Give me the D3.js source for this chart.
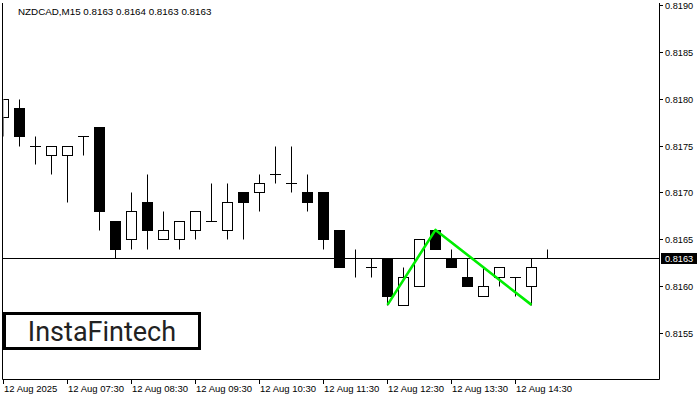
<!DOCTYPE html>
<html><head><meta charset="utf-8">
<script src="https://cdn.jsdelivr.net/npm/d3@7/dist/d3.min.js"></script>
<style>body{margin:0;background:#fff}svg{display:block}</style>
</head><body>
<script>
const symbolTitle = "NZDCAD,M15  0.8163 0.8164 0.8163 0.8163";
const opens  = [0.8178,0.8179,0.8175,0.8174,0.8174,0.8176,0.8177,0.8167,0.8165,0.8169,0.8165,0.8165,0.8166,0.8167,0.8166,0.8170,0.8170,0.8172,0.8171,0.8170,0.8170,0.8166,0.8163,0.8162,0.8163,0.8158,0.8160,0.8166,0.8163,0.8161,0.8159,0.8161,0.8161,0.8160,0.8163];
const highs  = [0.8180,0.8180,0.8176,0.8175,0.8175,0.8176,0.8177,0.8167,0.8170,0.8172,0.8168,0.8167,0.8168,0.8171,0.8171,0.8170,0.8172,0.8175,0.8175,0.8172,0.8170,0.8166,0.8164,0.8163,0.8163,0.8162,0.8165,0.8166,0.8164,0.8163,0.8162,0.8162,0.8161,0.8163,0.8164];
const lows   = [0.8176,0.8175,0.8173,0.8172,0.8169,0.8174,0.8166,0.8163,0.8164,0.8164,0.8165,0.8164,0.8165,0.8167,0.8165,0.8165,0.8168,0.8171,0.8170,0.8168,0.8164,0.8162,0.8161,0.8161,0.8158,0.8158,0.8160,0.8164,0.8162,0.8160,0.8159,0.8160,0.8159,0.8158,0.8163];
const closes = [0.8180,0.8176,0.8175,0.8175,0.8175,0.8176,0.8168,0.8164,0.8168,0.8166,0.8166,0.8167,0.8168,0.8167,0.8169,0.8169,0.8171,0.8172,0.8171,0.8169,0.8165,0.8162,0.8163,0.8162,0.8159,0.8161,0.8165,0.8164,0.8162,0.8160,0.8160,0.8162,0.8161,0.8162,0.8163];
const priceTicks = [0.8155,0.8160,0.8165,0.8170,0.8175,0.8180,0.8185,0.8190];
const timeTickIdx = [0,4,8,12,16,20,24,28,32];
const timeLabels = ["12 Aug 2025","12 Aug 07:30","12 Aug 08:30","12 Aug 09:30","12 Aug 10:30","12 Aug 11:30","12 Aug 12:30","12 Aug 13:30","12 Aug 14:30"];
const patternIdx = [24,27,33];
const patternPrices = [0.8158,0.8166,0.8158];
const currentPrice = 0.8163;
const logoText = "InstaFintech";

const W=700,H=400, L=3, R=659, T=3, B=379;
const svg=d3.select("body").append("svg").attr("width",W).attr("height",H);
const x=d3.scaleLinear().domain([0,34]).range([3.5,547.5]);
const y=d3.scaleLinear().domain([0.8155,0.8190]).range([333,5]);
const yp=v=>Math.round(y(v))+0.5;

const plot=svg.append("g");
plot.append("line").attr("x1",L).attr("x2",R).attr("y1",yp(currentPrice)).attr("y2",yp(currentPrice))
  .attr("stroke","#000").attr("stroke-width",1);

const data=opens.map((o,i)=>({i,o,h:highs[i],l:lows[i],c:closes[i]}));
svg.append("clipPath").attr("id","pc").append("rect").attr("x",L+0.5).attr("y",T).attr("width",R-L).attr("height",B-T);
const cg=plot.append("g").attr("clip-path","url(#pc)");
data.forEach(d=>{
  const cx=x(d.i);
  cg.append("line").attr("x1",cx).attr("x2",cx).attr("y1",yp(d.h)).attr("y2",yp(d.l)).attr("stroke","#000");
  const top=Math.min(yp(d.o),yp(d.c)), bot=Math.max(yp(d.o),yp(d.c));
  if(d.o===d.c){
    cg.append("line").attr("x1",cx-5.5).attr("x2",cx+5.5).attr("y1",top).attr("y2",top).attr("stroke","#000");
  } else {
    cg.append("rect").attr("x",cx-5).attr("y",top).attr("width",10).attr("height",bot-top)
      .attr("fill",d.c>d.o?"#fff":"#000").attr("stroke","#000").attr("stroke-width",1);
  }
});
cg.append("path").datum(patternIdx.map((k,j)=>[x(k),y(patternPrices[j])]))
  .attr("d",d3.line()).attr("fill","none").attr("stroke","#00ee00").attr("stroke-width",2.6).attr("stroke-linejoin","round");

svg.append("path").attr("d",`M${L-0.5},${T}V${B+0.5}H${R+0.5}V${T}`).attr("fill","none").attr("stroke","#000").attr("stroke-width",1);

const ra=svg.append("g").attr("font-family","Liberation Sans, Arial, sans-serif").attr("font-size","9.2px");
priceTicks.forEach(p=>{
  ra.append("line").attr("x1",R+0.5).attr("x2",R+4).attr("y1",yp(p)).attr("y2",yp(p)).attr("stroke","#000");
  ra.append("text").attr("x",665).attr("y",yp(p)+3.5).attr("fill","#000").text(p.toFixed(4));
});
ra.append("rect").attr("x",661).attr("y",yp(currentPrice)-5.5).attr("width",36).attr("height",11).attr("fill","#000");
ra.append("text").attr("x",665).attr("y",yp(currentPrice)+3.5).attr("fill","#fff").text(currentPrice.toFixed(4));

const ba=svg.append("g").attr("font-family","Liberation Sans, Arial, sans-serif").attr("font-size","9.5px");
timeTickIdx.forEach((k,j)=>{
  const tx=Math.round(x(k))-0.5;
  ba.append("line").attr("x1",tx).attr("x2",tx).attr("y1",B).attr("y2",B+5).attr("stroke","#000");
  ba.append("text").attr("x",tx+0.5).attr("y",392).attr("fill","#000").text(timeLabels[j]);
});

svg.append("text").attr("x",18).attr("y",15).attr("font-family","Liberation Sans, Arial, sans-serif")
  .attr("font-size","9.8px").attr("fill","#000").text(symbolTitle);

svg.append("rect").attr("x",4.5).attr("y",313.5).attr("width",195).attr("height",35).attr("fill","#fff").attr("stroke","#000").attr("stroke-width",3);
svg.append("text").attr("x",102).attr("y",341).attr("text-anchor","middle").attr("font-family","Roboto, Inter, sans-serif")
  .attr("font-size","27px").attr("font-weight","400").attr("fill","#222").text(logoText);
</script>
</body></html>
